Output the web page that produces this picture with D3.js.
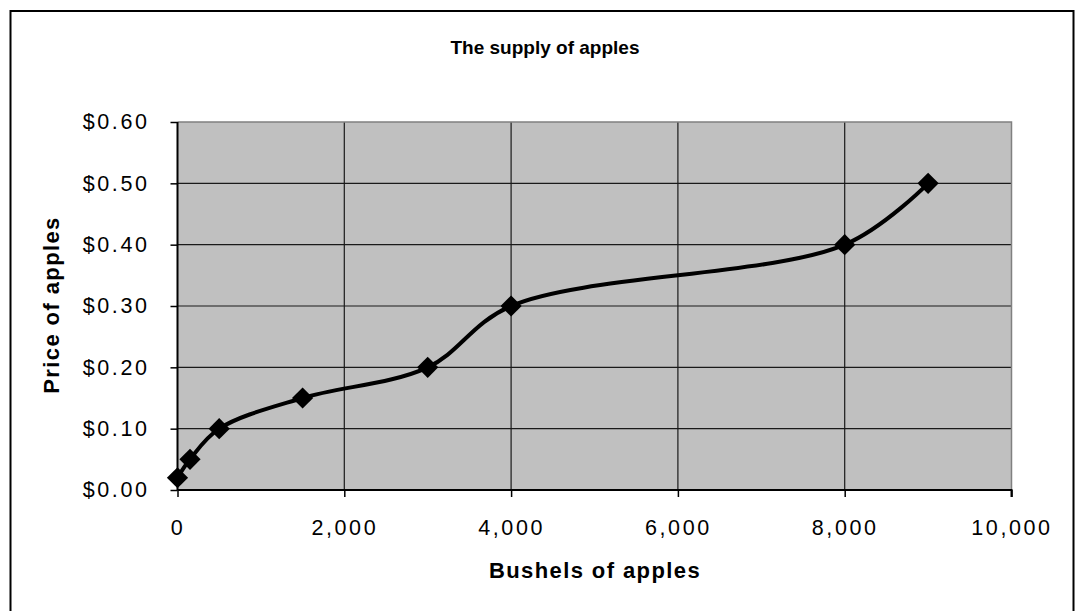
<!DOCTYPE html>
<html>
<head>
<meta charset="utf-8">
<script src="https://cdn.jsdelivr.net/npm/d3@7"></script>
<style>
  body { margin: 0; background: #fff; }
  text { font-family: "Liberation Sans", Arial, sans-serif; fill: #000; }
</style>
</head>
<body>
<div id="chart"></div>
<script>
// data
var bushels = [0, 150, 500, 1500, 3000, 4000, 8000, 9000];
var prices = [0.02, 0.05, 0.10, 0.15, 0.20, 0.30, 0.40, 0.50];
var xTicks = [0, 2000, 4000, 6000, 8000, 10000];
var yTicks = [0, 0.1, 0.2, 0.3, 0.4, 0.5, 0.6];
var chartTitle = "The supply of apples";
var xTitle = "Bushels of apples";
var yTitle = "Price of apples";

var W = 1077, H = 611;
var plot = {left: 177.5, top: 122, right: 1011.5, bottom: 490};

var svg = d3.select("#chart")
  .append("svg")
  .attr("width", W)
  .attr("height", H);

// outer chart border
svg.append("rect")
  .attr("x", 10.5).attr("y", 11)
  .attr("width", 1063).attr("height", 620)
  .attr("fill", "#fff")
  .attr("stroke", "#000")
  .attr("stroke-width", 2);

var x = d3.scaleLinear().domain([0, 10000]).range([plot.left, plot.right]);
var y = d3.scaleLinear().domain([0, 0.6]).range([plot.bottom, plot.top]);

// plot area
svg.append("rect")
  .attr("x", plot.left).attr("y", plot.top)
  .attr("width", plot.right - plot.left)
  .attr("height", plot.bottom - plot.top)
  .attr("fill", "#c0c0c0");

// gridlines
svg.append("g")
  .selectAll("line")
  .data(yTicks.slice(1, -1))
  .enter().append("line")
    .attr("x1", plot.left).attr("x2", plot.right)
    .attr("y1", function(d){ return y(d); })
    .attr("y2", function(d){ return y(d); })
    .attr("stroke", "#1a1a1a").attr("stroke-width", 1.2);
svg.append("g")
  .selectAll("line")
  .data(xTicks.slice(1, -1))
  .enter().append("line")
    .attr("x1", function(d){ return x(d); })
    .attr("x2", function(d){ return x(d); })
    .attr("y1", plot.top).attr("y2", plot.bottom)
    .attr("stroke", "#1a1a1a").attr("stroke-width", 1.2);

// top and right border in grey
svg.append("path")
  .attr("d", "M" + plot.left + "," + plot.top + "H" + plot.right + "V" + plot.bottom)
  .attr("fill", "none")
  .attr("stroke", "#808080")
  .attr("stroke-width", 1.5);

// axes
var fmtY = function(d){ return "$" + d.toFixed(2); };
var yAxis = svg.append("g")
  .attr("transform", "translate(" + plot.left + ",0)")
  .call(d3.axisLeft(y).tickValues(yTicks).tickFormat(fmtY).tickSize(7).tickPadding(21));
var xAxis = svg.append("g")
  .attr("transform", "translate(0," + plot.bottom + ")")
  .call(d3.axisBottom(x).tickValues(xTicks).tickFormat(d3.format(",")).tickSize(7).tickPadding(23));

[yAxis, xAxis].forEach(function(a){
  a.select(".domain").attr("stroke", "#000").attr("stroke-width", 2);
  a.selectAll(".tick line").attr("stroke", "#000").attr("stroke-width", 1.5);
  a.selectAll(".tick text")
    .style("font-family", "'Liberation Sans', Arial, sans-serif")
    .style("font-size", "21.5px")
    .style("letter-spacing", "2.6px")
    .attr("fill", "#000");
});
yAxis.select(".domain").attr("d", "M0," + plot.top + "V" + plot.bottom);
xAxis.select(".domain").attr("d", "M" + plot.left + ",0H" + plot.right + "V7");

// smoothed line
var line = d3.line()
  .x(function(d){ return x(d[0]); })
  .y(function(d){ return y(d[1]); })
  .curve(d3.curveCatmullRom.alpha(0.5));
var pts = d3.zip(bushels, prices);
svg.append("path")
  .datum(pts)
  .attr("d", line)
  .attr("fill", "none")
  .attr("stroke", "#000")
  .attr("stroke-width", 4)
  .attr("stroke-linejoin", "round");

// diamond markers
svg.append("g")
  .selectAll("path")
  .data(pts)
  .enter().append("path")
    .attr("d", d3.symbol().type(d3.symbolSquare).size(225))
    .attr("transform", function(d){ return "translate(" + x(d[0]) + "," + y(d[1]) + ") rotate(45)"; })
    .attr("fill", "#000");

// titles
svg.append("text")
  .attr("x", 545).attr("y", 54)
  .attr("text-anchor", "middle")
  .style("font-size", "19px").style("font-weight", "bold")
  .text(chartTitle);
svg.append("text")
  .attr("x", 595).attr("y", 578)
  .attr("text-anchor", "middle")
  .style("font-size", "22px").style("font-weight", "bold")
  .style("letter-spacing", "1.4px")
  .text(xTitle);
svg.append("text")
  .attr("transform", "translate(59,305) rotate(-90)")
  .attr("text-anchor", "middle")
  .style("font-size", "22px").style("font-weight", "bold")
  .style("letter-spacing", "1.4px")
  .text(yTitle);
</script>
</body>
</html>
